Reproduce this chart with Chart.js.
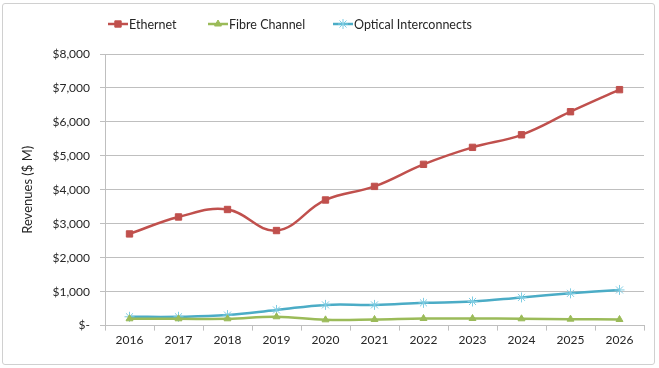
<!DOCTYPE html>
<html>
<head>
<meta charset="utf-8">
<script src="https://cdn.jsdelivr.net/npm/chart.js@4/dist/chart.umd.min.js"></script>
<style>
  html, body { margin: 0; padding: 0; background: #fff; }
  #wrap { position: relative; width: 659px; height: 368px; }
  #frame { position: absolute; left: 2px; top: 3px; width: 651px; height: 360px; border: 1px solid #d0d0d0; border-radius: 3px; pointer-events: none; }
</style>
</head>
<body>
<div id="wrap">
  <canvas id="chart" width="659" height="368"></canvas>
  <div id="frame"></div>
</div>
<script>
const years = ['2016', '2017', '2018', '2019', '2020', '2021', '2022', '2023', '2024', '2025', '2026'];
const ethernet = [2700, 3200, 3420, 2800, 3700, 4100, 4750, 5250, 5620, 6300, 6950];
const fibreChannel = [200, 200, 200, 260, 170, 180, 210, 210, 200, 190, 180];
const opticalInterconnects = [260, 260, 310, 460, 610, 610, 670, 710, 830, 950, 1050];
const yTicks = [0, 1000, 2000, 3000, 4000, 5000, 6000, 7000, 8000];

const FONT = 'Lato, "Open Sans", sans-serif';

function money(v) {
    if (v === 0) return '$-';
    return '$' + v.toLocaleString('en-US');
}

// legend drawn by hand so the spacing matches the Excel one
const excelLegend = {
    id: 'excelLegend',
    afterDraw(chart) {
        const ctx = chart.ctx;
        const starts = [108, 208, 333];
        const y = 24;
        ctx.save();
        ctx.font = '12.5px ' + FONT;
        ctx.textBaseline = 'middle';
        chart.data.datasets.forEach((ds, i) => {
            let x = starts[i];
            ctx.strokeStyle = ds.borderColor;
            ctx.lineWidth = 2.5;
            ctx.beginPath();
            ctx.moveTo(x, y);
            ctx.lineTo(x + 20, y);
            ctx.stroke();
            ctx.fillStyle = ds.pointBackgroundColor;
            ctx.strokeStyle = ds.pointBorderColor;
            ctx.lineWidth = ds.pointBorderWidth;
            Chart.helpers.drawPoint(ctx, {
                pointStyle: ds.pointStyle,
                radius: ds.pointRadius,
                borderWidth: ds.pointBorderWidth
            }, x + 10, y);
            ctx.fillStyle = '#262626';
            ctx.fillText(ds.label, x + 21, y + 1);
        });
        ctx.restore();
    }
};

function series(label, data, color, markerColor, style, radius) {
    return {
        label: label,
        data: data,
        borderColor: color,
        backgroundColor: color,
        pointBackgroundColor: markerColor,
        pointBorderColor: markerColor,
        pointBorderWidth: 1,
        pointStyle: style,
        pointRadius: radius,
        pointHoverRadius: radius,
        borderWidth: 2.5,
        tension: 0.4,
        fill: false
    };
}

new Chart(document.getElementById('chart'), {
    type: 'line',
    data: {
        labels: years,
        datasets: [
            series('Ethernet', ethernet, '#C0504D', '#C0504D', 'rect', 4.5),
            series('Fibre Channel', fibreChannel, '#9BBB59', '#9BBB59', 'triangle', 4),
            series('Optical Interconnects', opticalInterconnects, '#4BACC6', '#7fcde3', 'star', 5)
        ]
    },
    options: {
        responsive: false,
        animation: false,
        layout: { padding: { left: 20, right: 15, top: 54, bottom: 19 } },
        plugins: {
            legend: { display: false },
            tooltip: { enabled: false }
        },
        scales: {
            x: {
                offset: true,
                grid: {
                    offset: true,
                    drawOnChartArea: false,
                    drawTicks: true,
                    tickLength: 5,
                    color: '#bfbfbf'
                },
                border: { color: '#bfbfbf', width: 1 },
                ticks: {
                    color: '#262626',
                    font: { family: FONT, size: 12 },
                    padding: 2,
                    maxRotation: 0
                }
            },
            y: {
                min: 0,
                max: 8000,
                afterBuildTicks(scale) {
                    scale.ticks = yTicks.map(v => ({ value: v }));
                },
                afterFit(scale) {
                    scale.width = 85;
                },
                grid: {
                    color: '#bfbfbf',
                    tickLength: 5,
                    lineWidth: 1
                },
                border: { color: '#bfbfbf', width: 1 },
                title: {
                    display: true,
                    text: 'Revenues ($ M)',
                    color: '#262626',
                    font: { family: FONT, size: 13 },
                    padding: { top: 0, bottom: 0 }
                },
                ticks: {
                    color: '#262626',
                    font: { family: FONT, size: 12 },
                    padding: 10,
                    callback: v => money(v)
                }
            }
        }
    },
    plugins: [excelLegend]
});
</script>
</body>
</html>
